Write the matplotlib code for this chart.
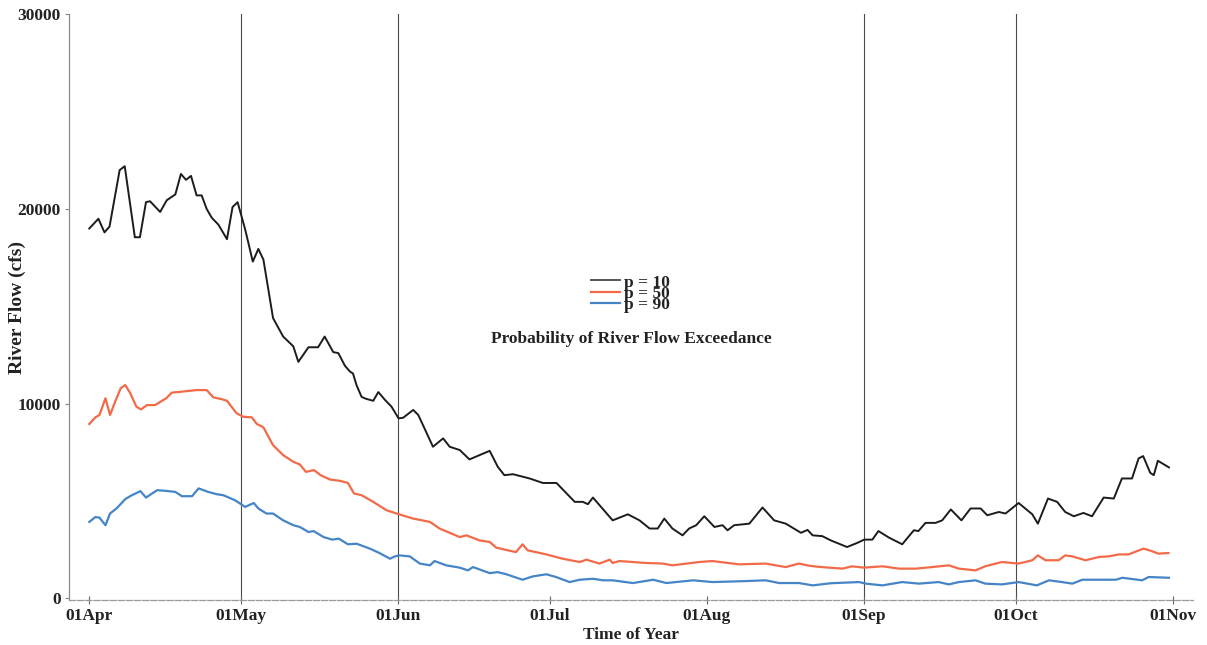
"""River flow exceedance curves, Apr-Nov."""

import matplotlib

matplotlib.use("Agg")
import matplotlib.pyplot as plt

# days counted from 01Apr
p10_days = [0, 1.8, 3, 4, 6, 7, 9, 10, 11.2, 12, 14, 15.3, 17, 18.1, 19.1, 20.1, 21.2, 22.2,
            23.2, 24.2, 25.5, 27.2, 28.3, 29.3, 30.8, 32.3, 33.4, 34.4, 36.3, 38.3, 40.3, 41.3,
            43.3, 45.2, 46.5, 48.2, 49.2, 50.5, 51.5, 52.1, 52.8, 53.8, 54.7, 56.1, 57.1, 58.4,
            59.7, 61.1, 62, 64, 65, 67.9, 69.9, 71.2, 73.2, 75.1, 77.1, 79.1, 80.7, 82, 83.7, 87,
            89.6, 92.3, 95.9, 97.5, 98.5, 99.5, 103.4, 106.4, 108.7, 110.7, 112.3, 113.6, 115.2,
            117.2, 118.5, 119.9, 121.5, 123.5, 125.1, 126.1, 127.4, 130.4, 133, 135.3, 137.6,
            140.6, 141.9, 142.9, 144.8, 146.5, 149.7, 151.7, 153.1, 154.7, 155.9, 158, 160.6,
            162.9, 163.8, 165.2, 167.2, 168.5, 170.2, 172.3, 174.1, 176.1, 177.4, 179.7, 181,
            183.6, 186.3, 187.4, 189.4, 191.2, 192.8, 194.5, 196.4, 198.1, 200.4, 202.4, 204,
            206, 207.3, 208.2, 209.6, 210.3, 211.1, 213.3]
p10_flow = [19000, 19500, 18800, 19100, 22000, 22200, 18550, 18550, 20350, 20400, 19850, 20450,
            20750, 21800, 21500, 21700, 20700, 20700, 20000, 19550, 19200, 18450, 20100, 20350,
            18950, 17300, 17950, 17400, 14400, 13450, 12950, 12150, 12900, 12900, 13450, 12650,
            12600, 11950, 11650, 11550, 10950, 10350, 10250, 10150, 10600, 10200, 9850, 9250,
            9280, 9680, 9420, 7790, 8220, 7790, 7620, 7140, 7360, 7580, 6760, 6330, 6380, 6160,
            5930, 5930, 4960, 4960, 4840, 5180, 4010, 4320, 4010, 3590, 3590, 4100, 3590, 3240,
            3590, 3760, 4220, 3670, 3760, 3500, 3760, 3840, 4670, 4010, 3840, 3370, 3520, 3240,
            3200, 2980, 2640, 2850, 3020, 3020, 3460, 3120, 2780, 3500, 3460, 3880, 3880, 4010,
            4570, 4010, 4620, 4620, 4270, 4440, 4360, 4900, 4320, 3840, 5130, 4960, 4440, 4220,
            4390, 4220, 5180, 5130, 6160, 6160, 7190, 7310, 6450, 6330, 7070, 6730]

p50_days = [0, 1.2, 2, 3.2, 4.1, 5.1, 6.2, 7.1, 8.1, 9.3, 10.2, 11.4, 13, 15.2, 16.3, 18.3, 21.2,
            23.2, 24.5, 26.2, 27.2, 29.1, 30.4, 32.1, 33.1, 34.4, 36.3, 38.3, 40.3, 41.6, 42.8,
            44.4, 45.7, 47.5, 49.5, 51.1, 52.3, 53.8, 56.1, 58.7, 61.2, 64, 67.3, 69.2, 73.2,
            74.5, 77.1, 79.1, 80.4, 82.7, 84.3, 85.6, 86.6, 90.3, 93.5, 96.9, 98.2, 100.8, 102.8,
            103.4, 104.7, 110, 113.3, 115.2, 120.5, 123.1, 128.4, 133.6, 137.6, 140.2, 142.2,
            144.2, 148.8, 150.7, 153.1, 156.7, 160, 163.3, 166.5, 169.8, 171.8, 175.1, 177,
            180.3, 183.6, 186.3, 187.4, 188.9, 191.5, 192.8, 194.2, 196.8, 199.5, 201.4, 203.4,
            205.3, 208.3, 209.9, 211.2, 213.2]
p50_flow = [8960, 9300, 9420, 10280, 9420, 10100, 10790, 10960, 10540, 9850, 9710, 9930, 9930,
            10280, 10570, 10620, 10700, 10700, 10330, 10230, 10150, 9510, 9330, 9300, 8960, 8790,
            7870, 7360, 7020, 6880, 6500, 6590, 6330, 6110, 6040, 5930, 5390, 5300, 4960, 4530,
            4320, 4100, 3930, 3590, 3150, 3240, 2980, 2900, 2610, 2470, 2380, 2780, 2470, 2260,
            2040, 1870, 1990, 1790, 1990, 1820, 1920, 1820, 1790, 1700, 1870, 1920, 1750, 1790,
            1610, 1790, 1680, 1620, 1530, 1650, 1580, 1650, 1530, 1530, 1610, 1700, 1530, 1440,
            1650, 1870, 1790, 1960, 2210, 1960, 1960, 2210, 2160, 1960, 2130, 2160, 2260, 2260,
            2560, 2430, 2300, 2330]

p90_days = [0, 1.2, 2, 3.2, 4.1, 5.5, 7.1, 8.4, 10.1, 11.2, 13.4, 15.3, 17, 18.3, 20.3, 21.6,
            23.5, 25.2, 26.5, 28.8, 30.8, 32.5, 33.4, 35, 36.3, 38.3, 40.3, 41.6, 43.3, 44.3,
            46.3, 48, 49.3, 51.1, 52.8, 55.4, 57.1, 59.4, 60.4, 61.3, 63.3, 65.3, 67.3, 68.2,
            70.5, 73.2, 74.8, 75.8, 79.1, 80.7, 82.4, 85.6, 87.6, 90.3, 92.2, 94.9, 96.9, 99.5,
            101.5, 103.4, 107.4, 111.4, 114, 119.3, 123.1, 129.7, 133.6, 136.3, 140.2, 142.9,
            146.5, 152.1, 153.4, 156.7, 160.6, 163.9, 167.8, 169.8, 171.8, 175.1, 177, 180.3,
            183.6, 187.2, 189.6, 192.2, 194.2, 196.2, 199.5, 202.8, 204.1, 208, 209.3, 213.3]
p90_flow = [3930, 4180, 4150, 3760, 4360, 4650, 5100, 5300, 5510, 5180, 5560, 5520, 5470, 5250,
            5250, 5650, 5470, 5350, 5300, 5040, 4700, 4900, 4620, 4360, 4360, 4010, 3760, 3670,
            3410, 3460, 3150, 3020, 3070, 2780, 2810, 2560, 2360, 2040, 2160, 2210, 2160, 1790,
            1700, 1920, 1700, 1580, 1440, 1610, 1300, 1350, 1240, 960, 1130, 1240, 1100, 840,
            960, 1010, 930, 930, 790, 960, 790, 930, 840, 890, 930, 790, 790, 670, 780, 840, 760,
            670, 840, 760, 840, 720, 840, 930, 760, 720, 840, 670, 930, 840, 760, 960, 960, 960,
            1060, 930, 1100, 1060]

month_days = [0, 30, 61, 91, 122, 153, 183, 214]
month_labels = ["01Apr", "01May", "01Jun", "01Jul", "01Aug", "01Sep", "01Oct", "01Nov"]
grid_days = [30, 61, 153, 183]
y_ticks = [0, 10000, 20000, 30000]

FONT = "Liberation Serif"


def main() -> None:
    fig = plt.figure(figsize=(12.07, 6.45), dpi=100)
    ax = fig.add_axes([0.0572, 0.0698, 0.931, 0.908])

    for d in grid_days:
        ax.axvline(d, color="#4a4a4a", linewidth=0.8, zorder=1)

    ax.plot(p10_days, p10_flow, color="#1c1c1c", linewidth=1.4, label="p = 10", zorder=3)
    ax.plot(p50_days, p50_flow, color="#f26a48", linewidth=1.6, label="p = 50", zorder=3)
    ax.plot(p90_days, p90_flow, color="#4584c6", linewidth=1.6, label="p = 90", zorder=3)

    ax.set_xlim(-4, 218)
    ax.set_ylim(-80, 30000)
    ax.set_xticks(month_days)
    ax.set_xticklabels(month_labels)
    ax.set_yticks(y_ticks)
    ax.set_yticklabels([str(v) for v in y_ticks])

    for side in ("top", "right"):
        ax.spines[side].set_visible(False)
    ax.spines["left"].set_color("#8a8a8a")
    ax.spines["left"].set_linewidth(0.9)
    ax.spines["bottom"].set_color("#9a9a9a")
    ax.spines["bottom"].set_linewidth(0.9)
    ax.spines["bottom"].set_linestyle((0, (5, 1.5)))

    ax.tick_params(axis="x", direction="inout", length=6, width=0.8, color="#666666", pad=3)
    ax.tick_params(axis="y", direction="out", length=3, width=0.8, color="#888888", pad=3)
    for lbl in ax.get_xticklabels() + ax.get_yticklabels():
        lbl.set_fontfamily(FONT)
        lbl.set_fontweight("bold")
        lbl.set_fontsize(12.5)
        lbl.set_color("#222222")

    ax.set_xlabel("Time of Year", fontfamily=FONT, fontweight="bold", fontsize=12.5,
                  color="#222222", labelpad=2)
    ax.set_ylabel("River Flow (cfs)", fontfamily=FONT, fontweight="bold", fontsize=14,
                  color="#222222")
    ax.yaxis.set_label_coords(-0.038, 0.5)

    leg = ax.legend(loc="center", bbox_to_anchor=(0.5, 0.5226), frameon=False,
                    prop={"family": FONT, "weight": "bold", "size": 12.5},
                    labelspacing=-0.27, handlelength=1.65, handletextpad=0.25,
                    borderpad=0)
    for text in leg.get_texts():
        text.set_color("#222222")
    leg.legend_handles[0].set_color("#555555")

    ax.text(0.5, 0.445, "Probability of River Flow Exceedance", transform=ax.transAxes,
            ha="center", va="center", fontfamily=FONT, fontweight="bold", fontsize=12.5,
            color="#222222")

    fig.savefig("out.png", dpi=100)
    plt.close(fig)


if __name__ == "__main__":
    main()
